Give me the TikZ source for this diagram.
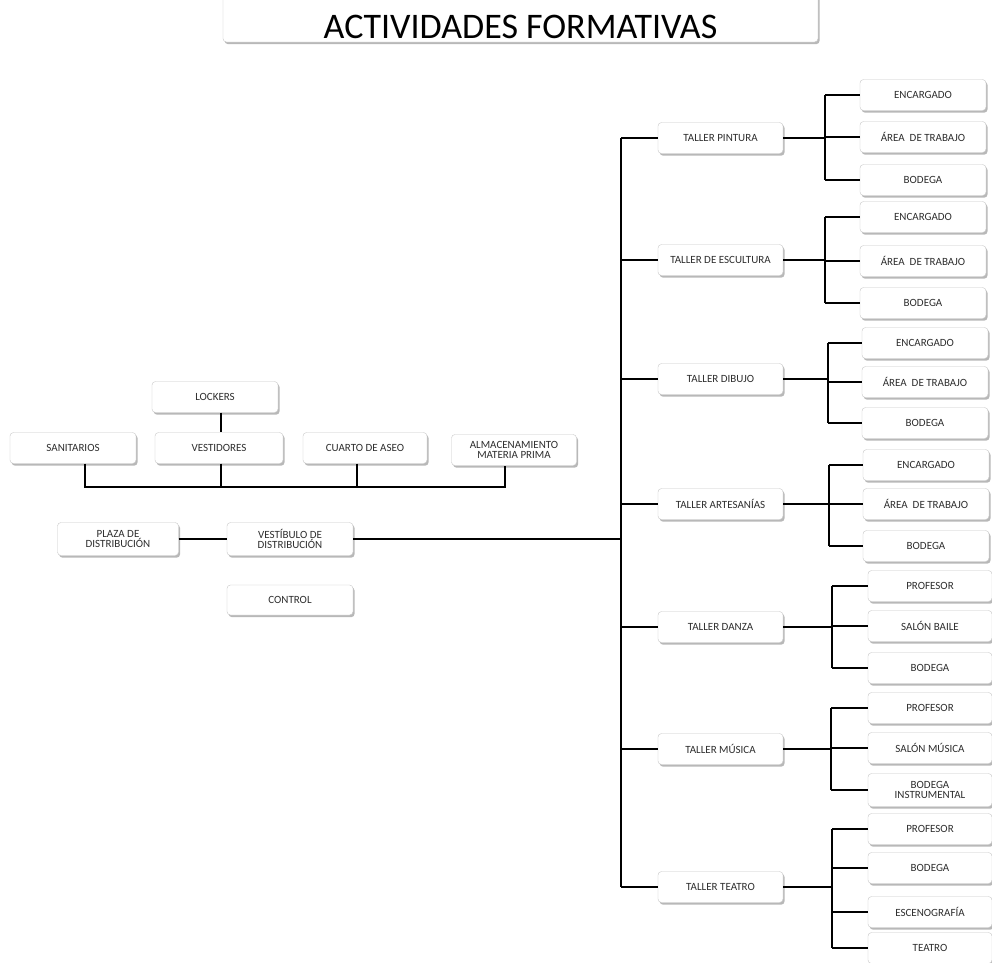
\documentclass[tikz,border=0pt]{standalone}
\usepackage{fontspec}
\setmainfont{Carlito}
\usetikzlibrary{shadows}

\tikzset{
  card/.style={draw=black!22, fill=white, rounded corners=3.5pt,
    minimum width=126pt, minimum height=31pt, inner sep=2pt,
    align=center, text=black!82, font=\fontsize{11}{11}\selectfont,
    drop shadow={shadow xshift=1.6pt, shadow yshift=-2.2pt, opacity=0.5, fill=black!55}},
  headcard/.style={card, minimum width=595pt, minimum height=56pt,
    text=black, font=\fontsize{36}{38}\selectfont},
  wire/.style={draw=black, line width=1.4pt}
}

\begin{document}
\begin{tikzpicture}[x=1pt, y=-1pt]
\useasboundingbox (0,0) rectangle (992,962);
\clip (0,0) rectangle (992,962);
\fill[white] (0,0) rectangle (992,962);

% heading (its top edge runs off the page)
\node[headcard] (head) at (520.5,14) {\raisebox{-24.5pt}[0pt][0pt]{ACTIVIDADES FORMATIVAS}};

% left group: services
\node[card] (lockers) at (215,397) {LOCKERS};
\node[card] (sanit) at (73,448) {SANITARIOS};
\node[card, minimum width=128pt] (vestid) at (219,448) {VESTIDORES};
\node[card, minimum width=124pt] (cuarto) at (365,448) {CUARTO DE ASEO};
\node[card, minimum width=125pt] (almac) at (514,450) {ALMACENAMIENTO\\[-1pt]MATERIA PRIMA};

% left group: access
\node[card, minimum width=121pt, minimum height=33pt] (plaza) at (118,539) {PLAZA DE\\[-1pt]DISTRIBUCIÓN};
\node[card, minimum height=33pt] (vestib) at (290,539) {VESTÍBULO DE\\[-1pt]DISTRIBUCIÓN};
\node[card, minimum height=30pt] (control) at (290,600) {CONTROL};

% workshops
\node[card, minimum width=125pt] (tpin) at (720.5,138) {TALLER PINTURA};
\node[card, minimum width=125pt] (tesc) at (720.5,260) {TALLER DE ESCULTURA};
\node[card, minimum width=125pt] (tdib) at (720.5,379) {TALLER DIBUJO};
\node[card, minimum width=125pt] (tart) at (720.5,504) {TALLER ARTESANÍAS};
\node[card, minimum width=125pt] (tdan) at (720.5,627) {TALLER DANZA};
\node[card, minimum width=125pt] (tmus) at (720.5,749) {TALLER MÚSICA};
\node[card, minimum width=125pt] (ttea) at (720.5,887) {TALLER TEATRO};

% areas of each workshop
\node[card] (p1) at (923,95) {ENCARGADO};
\node[card] (p2) at (923,137) {ÁREA \ DE TRABAJO};
\node[card] (p3) at (923,180) {BODEGA};

\node[card] (e1) at (923,217) {ENCARGADO};
\node[card] (e2) at (923,261) {ÁREA \ DE TRABAJO};
\node[card] (e3) at (923,303) {BODEGA};

\node[card] (d1) at (925,343) {ENCARGADO};
\node[card] (d2) at (925,382) {ÁREA \ DE TRABAJO};
\node[card] (d3) at (925,423) {BODEGA};

\node[card] (a1) at (926,465) {ENCARGADO};
\node[card] (a2) at (926,504) {ÁREA \ DE TRABAJO};
\node[card] (a3) at (926,546) {BODEGA};

\node[card, minimum width=124pt] (z1) at (930,586) {PROFESOR};
\node[card, minimum width=124pt] (z2) at (930,626) {SALÓN BAILE};
\node[card, minimum width=124pt] (z3) at (930,668) {BODEGA};

\node[card, minimum width=124pt] (m1) at (930,708) {PROFESOR};
\node[card, minimum width=124pt] (m2) at (930,748) {SALÓN MÚSICA};
\node[card, minimum width=124pt, minimum height=33pt] (m3) at (930,790) {BODEGA\\[-1pt]INSTRUMENTAL};

\node[card, minimum width=124pt] (t1) at (930,829) {PROFESOR};
\node[card, minimum width=124pt] (t2) at (930,868) {BODEGA};
\node[card, minimum width=124pt] (t3) at (930,912) {ESCENOGRAFÍA};
\node[card, minimum width=124pt] (t4) at (930,948) {TEATRO};

% ---- connectors: left group
\coordinate (dropS) at (85,487);
\coordinate (dropV) at (221,487);
\coordinate (dropC) at (357,487);
\coordinate (dropA) at (505,487);
\draw[wire] (lockers.south -| dropV) -- (vestid.north -| dropV);
\draw[wire] (sanit.south -| dropS) -- (dropS) -- (dropA) -- (almac.south -| dropA);
\draw[wire] (vestid.south -| dropV) -- (dropV);
\draw[wire] (cuarto.south -| dropC) -- (dropC);
\draw[wire] (plaza.east) -- (vestib.west);

% ---- trunk to the workshops
\coordinate (trunk) at (621,539);
\draw[wire] (vestib.east) -- (trunk);
\draw[wire] (tpin.west -| trunk) -- (ttea.west -| trunk);
\foreach \t in {tpin,tesc,tdib,tart,tdan,tmus,ttea}
  \draw[wire] (\t.west -| trunk) -- (\t.west);

% ---- branches of each workshop
\foreach \t/\bx/\first/\last/\all in {
    tpin/825/p1/p3/{p1,p2,p3},
    tesc/825/e1/e3/{e1,e2,e3},
    tdib/828/d1/d3/{d1,d2,d3},
    tart/829/a1/a3/{a1,a2,a3},
    tdan/832/z1/z3/{z1,z2,z3},
    tmus/831/m1/m3/{m1,m2,m3},
    ttea/832/t1/t4/{t1,t2,t3,t4}} {
  \coordinate (br) at (\bx,0);
  \draw[wire] (\t.east) -- (\t.east -| br);
  \draw[wire] (\first.west -| br) -- (\last.west -| br);
  \foreach \s in \all
    \draw[wire] (\s.west -| br) -- (\s.west);
}
\end{tikzpicture}
\end{document}
